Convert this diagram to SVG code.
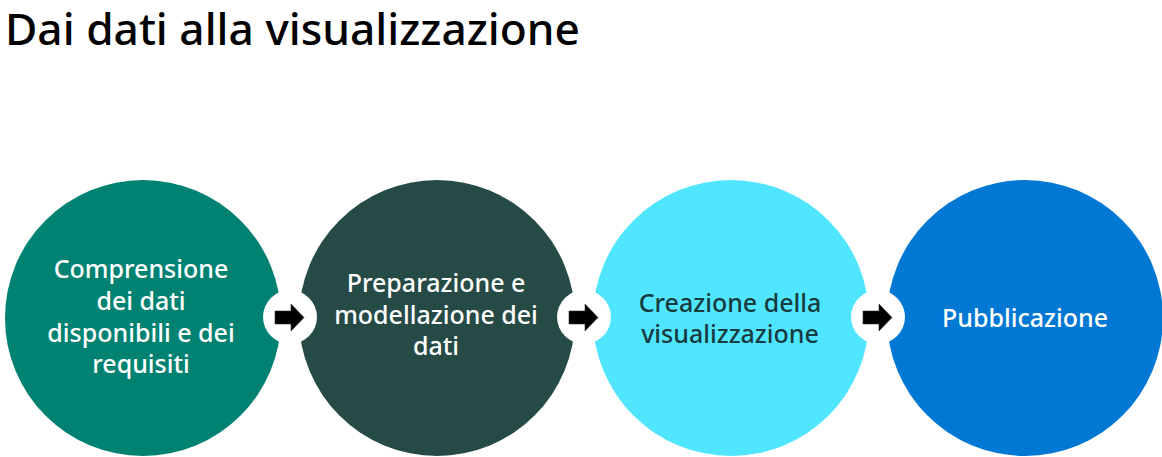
<svg xmlns="http://www.w3.org/2000/svg" width="1162" height="457" viewBox="0 0 1162 457">
  <style>
    .title { font-family: "Noto Sans", "Open Sans", sans-serif; font-size: 44px; font-weight: 500; fill: #000000; }
    .lbl { font-family: "Noto Sans", "Open Sans", sans-serif; font-size: 25px; font-weight: 500; fill: #ffffff; text-anchor: middle; }
    .dark { fill: #173b40; }
    .badge { fill: #ffffff; }
    .arrow { fill: #000000; stroke: #333333; stroke-width: 0.6; }
  </style>
  <defs>
    <polygon id="arr" points="-15,-6.5 1,-6.5 1,-13.5 14,0 1,13.5 1,6.5 -15,6.5"/>
  </defs>
  <rect width="1162" height="457" fill="#ffffff"/>
  <text class="title" x="5" y="45" textLength="575" lengthAdjust="spacingAndGlyphs">Dai dati alla visualizzazione</text>

  <g id="node1">
    <circle cx="143" cy="318" r="138" fill="#008272"/>
    <text class="lbl" x="141" y="278">Comprensione</text>
    <text class="lbl" x="141" y="310">dei dati</text>
    <text class="lbl" x="141" y="342">disponibili e dei</text>
    <text class="lbl" x="141" y="373">requisiti</text>
  </g>
  <g id="node2">
    <circle cx="437" cy="318" r="138" fill="#264b47"/>
    <text class="lbl" x="436" y="292">Preparazione e</text>
    <text class="lbl" x="436" y="324">modellazione dei</text>
    <text class="lbl" x="436" y="355">dati</text>
  </g>
  <g id="node3">
    <circle cx="731" cy="318" r="138" fill="#50e6ff"/>
    <text class="lbl dark" x="730" y="312">Creazione della</text>
    <text class="lbl dark" x="730" y="343">visualizzazione</text>
  </g>
  <g id="node4">
    <circle cx="1025" cy="318" r="138" fill="#0078d4"/>
    <text class="lbl" x="1025" y="327">Pubblicazione</text>
  </g>

  <g id="connectors">
    <circle class="badge" cx="290" cy="317" r="27"/>
    <use href="#arr" class="arrow" x="290" y="317.5"/>
    <circle class="badge" cx="584" cy="317" r="27"/>
    <use href="#arr" class="arrow" x="584" y="317.5"/>
    <circle class="badge" cx="878" cy="317" r="27"/>
    <use href="#arr" class="arrow" x="878" y="317.5"/>
  </g>
</svg>
